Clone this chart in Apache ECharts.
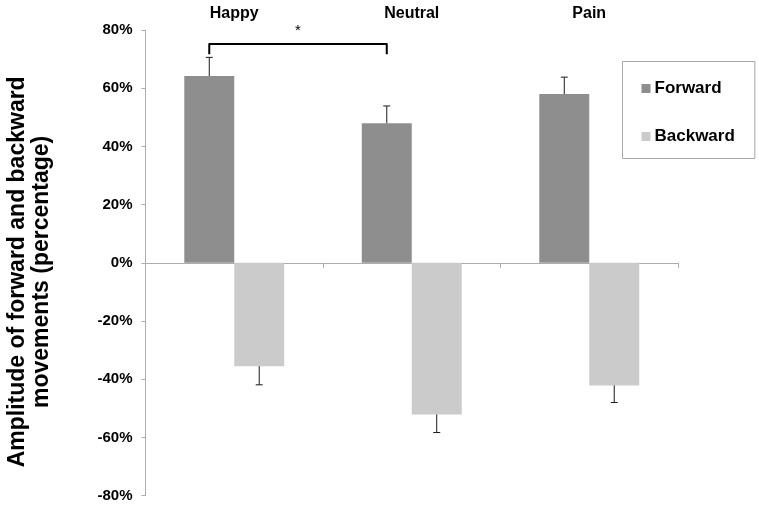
<!DOCTYPE html>
<html><head><meta charset="utf-8">
<script src="https://cdn.jsdelivr.net/npm/echarts@6/dist/echarts.min.js"></script>
<style>html,body{margin:0;padding:0;background:#fff}#c{width:759px;height:507px}</style>
</head><body><div id="c"></div>
<script>
const categories = ['Happy', 'Neutral', 'Pain'];
const forward = [64.2, 48.0, 58.0];
const forwardErr = [6.4, 5.9, 5.8];
const backward = [-35.5, -52.1, -42.1];
const backwardErr = [6.4, 6.2, 5.9];
const yMin = -80, yMax = 80, yStep = 20;
// significance bracket between Happy/Forward and Neutral/Forward
const sigPair = [0, 1];
const sigLevel = 75.2, sigDrop = 71.7, sigStarLevel = 79.6, sigText = '*';

const GAP = 0.437;
const FONT = 'Liberation Sans, Arial, sans-serif';

function barCenterX(api, ci, side) {
  const band = api.size([1, 0])[0];
  const barW = band * (1 - GAP) / 2;
  const c = api.coord([ci, 0])[0];
  return side === 0 ? c - barW / 2 : c + barW / 2;
}

function errItem(params, api) {
  const ci = api.value(0), v = api.value(1), e = api.value(2), side = api.value(3);
  const x = barCenterX(api, ci, side);
  const y0 = api.coord([ci, v])[1];
  const y1 = api.coord([ci, v + (v >= 0 ? e : -e)])[1];
  const cap = 3.5;
  const st = { stroke: '#1a1a1a', lineWidth: 1 };
  return { type: 'group', children: [
    { type: 'line', shape: { x1: x, y1: y0, x2: x, y2: y1 }, style: st },
    { type: 'line', shape: { x1: x - cap, y1: y1, x2: x + cap, y2: y1 }, style: st }
  ] };
}

function sigItem(params, api) {
  const a = api.value(0), b = api.value(1);
  const xa = barCenterX(api, a, 0), xb = barCenterX(api, b, 0);
  const yl = api.coord([a, api.value(2)])[1];
  const yd = api.coord([a, api.value(3)])[1];
  const ys = api.coord([a, api.value(4)])[1];
  return { type: 'group', children: [
    { type: 'polyline', shape: { points: [[xa, yd], [xa, yl], [xb, yl], [xb, yd]] },
      style: { stroke: '#000', lineWidth: 2, fill: null, lineJoin: 'round' } },
    { type: 'text', x: (xa + xb) / 2, y: ys,
      style: { text: sigText, font: '15px ' + FONT, fill: '#000', textAlign: 'center', textVerticalAlign: 'middle' } }
  ] };
}

const chart = echarts.init(document.getElementById('c'), null, { renderer: 'canvas' });
chart.setOption({
  animation: false,
  backgroundColor: '#fff',
  grid: { left: 145.5, right: 81, top: 30, bottom: 11.3, containLabel: false, outerBoundsMode: 'none' },
  legend: {
    data: ['Forward', 'Backward'],
    orient: 'vertical',
    left: 622.5, top: 61.5,
    padding: [17, 20, 12, 19],
    itemGap: 28,
    itemWidth: 9, itemHeight: 9,
    icon: 'rect',
    borderColor: '#a8a8a8', borderWidth: 1,
    textStyle: { fontFamily: FONT, fontWeight: 'bold', fontSize: 17, color: '#000', lineHeight: 20, padding: [0, 0, 0, -1] }
  },
  xAxis: [{
    type: 'category', data: categories, position: 'bottom',
    axisLine: { onZero: true, lineStyle: { color: '#adadad', width: 1 } },
    axisTick: { show: true, length: 5, lineStyle: { color: '#adadad' } },
    axisLabel: { show: false }
  }, {
    type: 'category', data: categories, position: 'top',
    axisLine: { show: false }, axisTick: { show: false },
    axisLabel: { margin: 8, fontFamily: FONT, fontWeight: 'bold', fontSize: 16, color: '#000' }
  }],
  yAxis: {
    type: 'value', min: yMin, max: yMax, interval: yStep,
    splitLine: { show: false },
    axisLine: { show: true, lineStyle: { color: '#adadad' } },
    axisTick: { show: true, length: 4, lineStyle: { color: '#adadad' } },
    axisLabel: { formatter: '{value}%', margin: 13, fontFamily: FONT, fontWeight: 'bold', fontSize: 15, color: '#000' },
    name: 'Amplitude of forward and backward\nmovements (percentage)',
    nameLocation: 'middle', nameRotate: 90, nameGap: 92,
    nameTextStyle: { fontFamily: FONT, fontWeight: 'bold', fontSize: 23, color: '#000', lineHeight: 24, padding: [0, 18, 0, 0] }
  },
  series: [
    { name: 'Forward', type: 'bar', data: forward, itemStyle: { color: '#8e8e8e' },
      barGap: '0%', barCategoryGap: (GAP * 100) + '%' },
    { name: 'Backward', type: 'bar', data: backward, itemStyle: { color: '#cbcbcb' } },
    { type: 'custom', renderItem: errItem, z: 5,
      data: forward.map((v, i) => [i, v, forwardErr[i], 0]).concat(backward.map((v, i) => [i, v, backwardErr[i], 1])) },
    { type: 'custom', renderItem: sigItem, z: 5,
      data: [[sigPair[0], sigPair[1], sigLevel, sigDrop, sigStarLevel]] }
  ]
});
</script>
</body></html>
